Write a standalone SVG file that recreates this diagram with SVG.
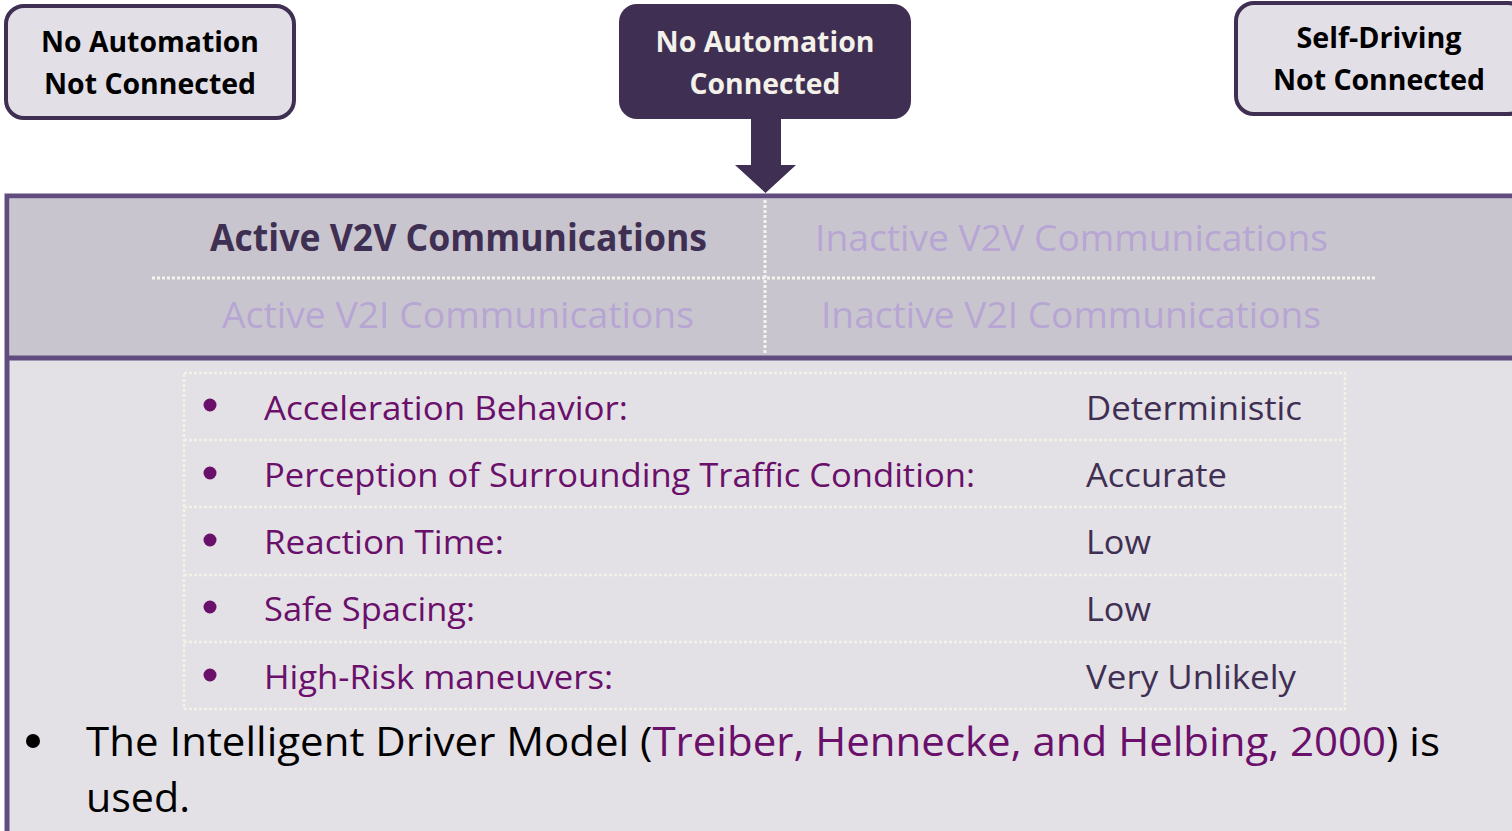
<svg xmlns="http://www.w3.org/2000/svg" width="1512" height="831" viewBox="0 0 1512 831">
<style>
.bx{fill:#e2dfe6;stroke:#3f2f52;stroke-width:4}
.bt{font-family:"Open Sans","Liberation Sans",sans-serif;font-weight:bold;font-size:29px;text-anchor:middle}
.hd{font-family:"Open Sans","Liberation Sans",sans-serif;font-size:37px}
.row{font-family:"Open Sans","Liberation Sans",sans-serif;font-size:33px}
.lbl{fill:#6a0f6a}
.val{fill:#3f2f52}
.dot{stroke:#f6f4ec;stroke-width:3;stroke-dasharray:3 2;fill:none}
.tdot{stroke:#f4f2e8;stroke-width:2.5;stroke-dasharray:3 2;fill:none}
</style>
<rect width="1512" height="831" fill="#ffffff"/>
<g id="panel">
<rect x="7" y="196" width="1520" height="640" fill="#e3e0e6" stroke="#614c7f" stroke-width="5"/>
<rect x="9.5" y="198.5" width="1510" height="158" fill="#c9c5cf"/>
<line x1="7" y1="358" x2="1512" y2="358" stroke="#614c7f" stroke-width="5"/>
<line x1="765" y1="200" x2="765" y2="355" class="dot"/>
<line x1="152" y1="278" x2="1377" y2="278" class="dot"/>
<text x="210" y="251" class="hd" font-weight="bold" fill="#3f2f52" textLength="497" lengthAdjust="spacingAndGlyphs">Active V2V Communications</text>
<text x="815" y="251" class="hd" fill="#b7a5d3" textLength="513" lengthAdjust="spacingAndGlyphs">Inactive V2V Communications</text>
<text x="222" y="328" class="hd" fill="#b7a5d3" textLength="472" lengthAdjust="spacingAndGlyphs">Active V2I Communications</text>
<text x="821" y="328" class="hd" fill="#b7a5d3" textLength="500" lengthAdjust="spacingAndGlyphs">Inactive V2I Communications</text>
</g>
<g id="table">
<rect x="184" y="373" width="1161" height="336" class="tdot"/>
<line x1="184" y1="440" x2="1345" y2="440" class="tdot"/>
<line x1="184" y1="507" x2="1345" y2="507" class="tdot"/>
<line x1="184" y1="575" x2="1345" y2="575" class="tdot"/>
<line x1="184" y1="642" x2="1345" y2="642" class="tdot"/>
<g fill="#6a0f6a">
<circle cx="210" cy="405" r="6.5"/>
<circle cx="210" cy="473" r="6.5"/>
<circle cx="210" cy="540" r="6.5"/>
<circle cx="210" cy="607" r="6.5"/>
<circle cx="210" cy="675" r="6.5"/>
</g>
<text x="264" y="420" class="row lbl" textLength="364" lengthAdjust="spacingAndGlyphs">Acceleration Behavior:</text>
<text x="264" y="487" class="row lbl" textLength="711" lengthAdjust="spacingAndGlyphs">Perception of Surrounding Traffic Condition:</text>
<text x="264" y="554" class="row lbl" textLength="240" lengthAdjust="spacingAndGlyphs">Reaction Time:</text>
<text x="264" y="621" class="row lbl" textLength="211" lengthAdjust="spacingAndGlyphs">Safe Spacing:</text>
<text x="264" y="689" class="row lbl" textLength="349" lengthAdjust="spacingAndGlyphs">High-Risk maneuvers:</text>
<text x="1086" y="420" class="row val" textLength="216" lengthAdjust="spacingAndGlyphs">Deterministic</text>
<text x="1086" y="487" class="row val" textLength="141" lengthAdjust="spacingAndGlyphs">Accurate</text>
<text x="1086" y="554" class="row val" textLength="65" lengthAdjust="spacingAndGlyphs">Low</text>
<text x="1086" y="621" class="row val" textLength="65" lengthAdjust="spacingAndGlyphs">Low</text>
<text x="1086" y="689" class="row val" textLength="210" lengthAdjust="spacingAndGlyphs">Very Unlikely</text>
</g>
<g id="note">
<circle cx="33" cy="741" r="7" fill="#000"/>
<text x="86" y="756" font-family="Open Sans, Liberation Sans, sans-serif" font-size="41" fill="#000" textLength="1354" lengthAdjust="spacingAndGlyphs">The Intelligent Driver Model (<tspan fill="#6a0f6a">Treiber, Hennecke, and Helbing, 2000</tspan>) is</text>
<text x="86" y="812" font-family="Open Sans, Liberation Sans, sans-serif" font-size="41" fill="#000" textLength="104" lengthAdjust="spacingAndGlyphs">used.</text>
</g>
<g id="connectors">
<path d="M751 118 H781 V165 H796 L765.5 193 L735 165 H751 Z" fill="#3f2f52"/>
</g>
<g id="node-left">
<rect x="6" y="6" width="288" height="112" rx="18" class="bx"/>
<text x="150" y="52" class="bt" fill="#000" textLength="218" lengthAdjust="spacingAndGlyphs">No Automation</text>
<text x="150" y="94" class="bt" fill="#000" textLength="212" lengthAdjust="spacingAndGlyphs">Not Connected</text>
</g>
<g id="node-center">
<rect x="619" y="4" width="292" height="115" rx="18" fill="#3f2f52"/>
<text x="765" y="52" class="bt" fill="#f3f1ea" textLength="219" lengthAdjust="spacingAndGlyphs">No Automation</text>
<text x="765" y="94" class="bt" fill="#f3f1ea" textLength="151" lengthAdjust="spacingAndGlyphs">Connected</text>
</g>
<g id="node-right">
<rect x="1236" y="3" width="290" height="111" rx="18" class="bx"/>
<text x="1379" y="48" class="bt" fill="#000" textLength="165" lengthAdjust="spacingAndGlyphs">Self-Driving</text>
<text x="1379" y="90" class="bt" fill="#000" textLength="212" lengthAdjust="spacingAndGlyphs">Not Connected</text>
</g>
</svg>
